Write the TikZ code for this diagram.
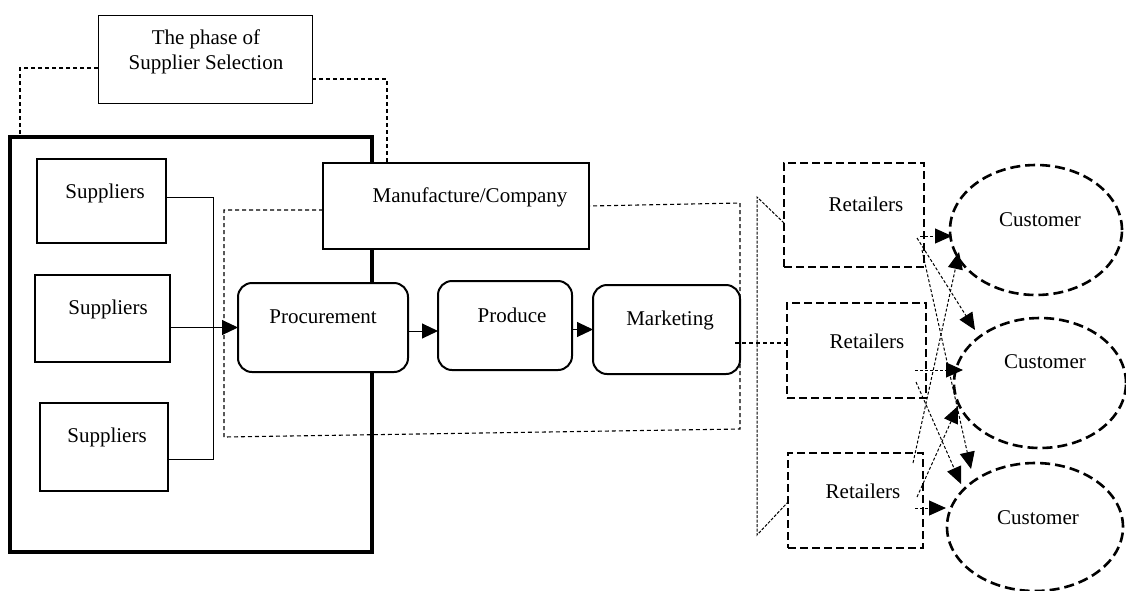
\documentclass[tikz,border=0pt]{standalone}
\usepackage{fontspec}
\setmainfont{Liberation Serif}
\usetikzlibrary{arrows.meta,shapes.geometric}
\begin{document}
\begin{tikzpicture}[x=1pt,y=-1pt,font=\fontsize{21}{25}\selectfont,
  box/.style={draw,fill=white,inner sep=0pt,outer sep=0pt},
  sbox/.style={box,line width=1.8pt},
  rbox/.style={box,line width=2pt,rounded corners=14pt},
  retbox/.style={box,line width=2.6pt,dash pattern=on 8pt off 4pt},
  cust/.style={box,ellipse,line width=2.6pt,dash pattern=on 10pt off 5pt},
  txt/.style={inner sep=0pt,align=center},
  conn/.style={line width=1pt},
  arr/.style={line width=1pt,-{Triangle[length=16pt,width=15pt]}},
  thindash/.style={line width=1.1pt,dash pattern=on 4pt off 3pt},
  fine/.style={line width=1pt,dash pattern=on 3pt off 1.5pt},
  rarr/.style={line width=1pt,dash pattern=on 3pt off 2pt,-{Triangle[length=17pt,width=15pt]}}]
\useasboundingbox (0,0) rectangle (1126,590);
\fill[white] (0,0) rectangle (1126,590);
% big frame
\node[draw,line width=3.5pt,inner sep=0pt,outer sep=0pt,minimum width=362pt,minimum height=415pt] (big) at (191,344.5) {};
% phase box
\node[box,line width=1pt,minimum width=214pt,minimum height=88pt] (phase) at (205,59) {};
\node[txt] (phaset) at (206,52) {The phase of\\Supplier Selection};
% coordinates
\coordinate (pl) at (20,68);
\coordinate (pr) at (387,79);
\coordinate (d1) at (224,210);
\coordinate (d2) at (224,437);
\coordinate (d3) at (740,429);
\coordinate (d4) at (740,203);
\coordinate (f1) at (757,197);
\coordinate (f2) at (757,535);
\coordinate (j1) at (213,197);
\coordinate (j3) at (213,459);
% manufacture box
\node[box,line width=2pt,minimum width=266pt,minimum height=86pt] (manu) at (456,206) {};
\node[txt] (manut) at (470,197) {Manufacture/Company};
% dashed connections from phase box
\draw[thindash] (phase.west |- pl) -- (pl) -- (pl |- big.north);
\draw[thindash] (phase.east |- pr) -- (pr) -- (pr |- manu.north);
% inner dashed area
\draw[thindash] (manu.west |- d1) -- (d1) -- (d2) -- (d3) -- (d4) -- (manu.east |- 0,206);
% suppliers
\node[sbox,minimum width=129pt,minimum height=84pt] (s1) at (101.5,201) {};
\node[sbox,minimum width=135pt,minimum height=87pt] (s2) at (102.5,318.5) {};
\node[sbox,minimum width=128pt,minimum height=88pt] (s3) at (104,447) {};
\node[txt] (s1t) at (105,193) {Suppliers};
\node[txt] (s2t) at (108,309) {Suppliers};
\node[txt] (s3t) at (107,437) {Suppliers};
% process boxes
\node[rbox,minimum width=170pt,minimum height=89pt] (proc) at (323,327.5) {};
\node[rbox,minimum width=134pt,minimum height=89pt] (prod) at (505,325.5) {};
\node[rbox,minimum width=147pt,minimum height=89pt] (mark) at (666.5,329.5) {};
\node[txt] (proct) at (323,317) {Procurement};
\node[txt] (prodt) at (512,315) {Produce};
\node[txt] (markt) at (670,320) {Marketing};
% supplier connectors
\draw[conn] (s1.east |- j1) -- (j1) -- (j3) -- (s3.east |- j3);
\draw[arr] (s2.east |- proc.west) -- (proc.west);
\draw[arr] ([yshift=-3.5pt]proc.east) -- ([yshift=-3.5pt]proc.east -| prod.west);
\draw[arr] (prod.east |- mark.west) -- (mark.west);
% retailers
\node[retbox,minimum width=140pt,minimum height=104pt] (r1) at (854,215) {};
\node[retbox,minimum width=139pt,minimum height=95pt] (r2) at (856.5,350.5) {};
\node[retbox,minimum width=135pt,minimum height=95pt] (r3) at (855.5,500.5) {};
\node[txt] (r1t) at (866,204) {Retailers};
\node[txt] (r2t) at (867,341) {Retailers};
\node[txt] (r3t) at (863,491) {Retailers};
% marketing to retailers
\coordinate (m1) at (735,343);
\draw[thindash] (m1) -- (r2.west |- m1);
\draw[fine] (r1.west |- 0,223) -- (f1) -- (f2) -- (r3.west |- 0,502);
% customers
\node[cust,minimum width=172pt,minimum height=130pt] (c1) at (1036,230) {};
\node[cust,minimum width=172pt,minimum height=130pt] (c2) at (1040,383) {};
\node[cust,minimum width=176pt,minimum height=128pt] (c3) at (1035,527) {};
\node[txt] (c1t) at (1040,220) {Customer};
\node[txt] (c2t) at (1045,362) {Customer};
\node[txt] (c3t) at (1038,518) {Customer};
% retailer to customer arrows
\coordinate (a1s) at (920,236);  \coordinate (a1e) at (952,236);
\coordinate (a2s) at (917,238);  \coordinate (a2e) at (975,330);
\coordinate (a3s) at (922,250);  \coordinate (a3e) at (971,469);
\coordinate (a4s) at (913,463);  \coordinate (a4e) at (959,252);
\coordinate (a5s) at (915,370);  \coordinate (a5e) at (963,370);
\coordinate (a6s) at (916,382);  \coordinate (a6e) at (961,484);
\coordinate (a7s) at (917,497);  \coordinate (a7e) at (958,406);
\coordinate (a8s) at (915,508);  \coordinate (a8e) at (946,508);
\draw[rarr] (a1s) -- (a1e);
\draw[rarr] (a2s) -- (a2e);
\draw[rarr] (a3s) -- (a3e);
\draw[rarr] (a4s) -- (a4e);
\draw[rarr] (a5s) -- (a5e);
\draw[rarr] (a6s) -- (a6e);
\draw[rarr] (a7s) -- (a7e);
\draw[rarr] (a8s) -- (a8e);
\end{tikzpicture}
\end{document}
